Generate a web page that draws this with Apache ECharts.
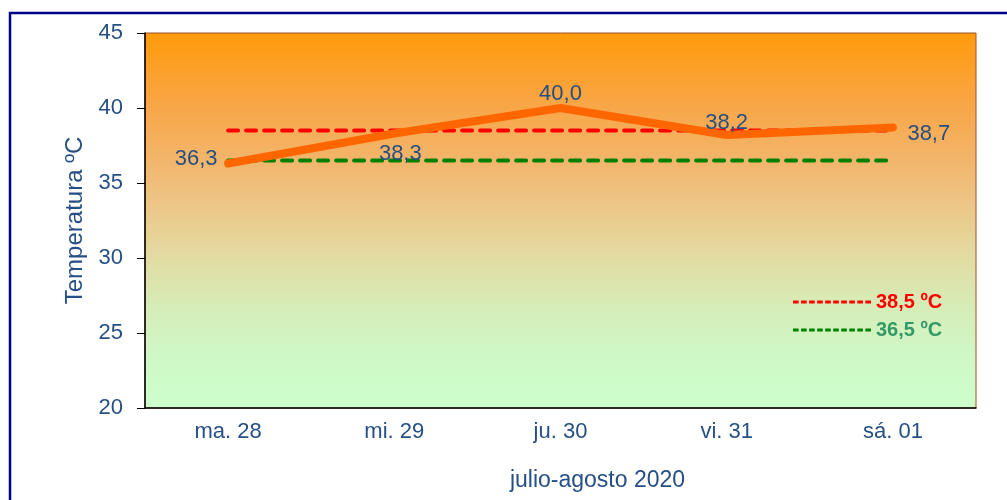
<!DOCTYPE html>
<html>
<head>
<meta charset="utf-8">
<script src="https://cdn.jsdelivr.net/npm/echarts@6/dist/echarts.min.js"></script>
<style>html,body{margin:0;padding:0;background:#fff}#c{width:1007px;height:500px}</style>
</head>
<body>
<div id="c"></div>
<script>
const categories = ['ma. 28', 'mi. 29', 'ju. 30', 'vi. 31', 'sá. 01'];
const temperatures = [36.3, 38.3, 40.0, 38.2, 38.7];
const feverLimit = [38.5, 38.5, 38.5, 38.5, 38.5];
const normalLimit = [36.5, 36.5, 36.5, 36.5, 36.5];
const yTicks = { min: 20, max: 45, interval: 5 };
const labelPlaces = ['left', 'bottom', 'top', 'top', 'right'];

const txt = '#264F85';
const font = 'Liberation Sans, Arial, sans-serif';
const offsets = { left: [0, -5], bottom: [6, 0], top: [0, 0], right: [0, 6] };
const dists = [10, 9, 3, 1, 14];

// dashed legend icon: 10 dashes in a 78 x 3 box
let dashPath = 'path://';
for (let k = 0; k < 10; k++) {
  const x0 = k * 7.85;
  dashPath += 'M' + x0.toFixed(2) + ',0h5.5v3h-5.5z';
}

const chart = echarts.init(document.getElementById('c'));
chart.setOption({
  animation: false,
  textStyle: { fontFamily: font },
  grid: {
    left: 145, right: 31, top: 33, bottom: 92,
    outerBoundsMode: 'none',
    show: true,
    borderColor: '#A0522D', borderWidth: 1,
    backgroundColor: new echarts.graphic.LinearGradient(0, 0, 0, 1, [
      { offset: 0, color: '#FF9A0A' },
      { offset: 0.18, color: '#F9A543' },
      { offset: 0.34, color: '#F2B56B' },
      { offset: 0.45, color: '#EDC586' },
      { offset: 0.6, color: '#E2DCA2' },
      { offset: 0.72, color: '#D7EBB6' },
      { offset: 0.85, color: '#CFF8C6' },
      { offset: 1, color: '#CCFFCC' }
    ])
  },
  graphic: [{
    type: 'rect', x: 10, y: 13, z: 100, silent: true,
    shape: { x: 0, y: 0, width: 1100, height: 600 },
    style: { fill: 'none', stroke: '#00008B', lineWidth: 2.5 }
  }],
  legend: {
    orient: 'vertical', left: 788, top: 285,
    itemWidth: 78, itemHeight: 3, itemGap: 4,
    symbolKeepAspect: false,
    data: [
      { name: '38,5 ºC', icon: dashPath, itemStyle: { color: '#FF0000' },
        textStyle: { color: '#FF0000', fontWeight: 'bold', fontSize: 20, lineHeight: 24, fontFamily: font } },
      { name: '36,5 ºC', icon: dashPath, itemStyle: { color: '#008000' },
        textStyle: { color: '#339966', fontWeight: 'bold', fontSize: 20, lineHeight: 24, fontFamily: font } }
    ]
  },
  xAxis: {
    type: 'category', data: categories, boundaryGap: true,
    name: 'julio-agosto 2020', nameLocation: 'middle', nameGap: 61,
    nameTextStyle: { color: txt, fontSize: 23, fontFamily: font, padding: [0, 0, 0, 74] },
    axisLine: { lineStyle: { color: '#000', width: 1.5 } },
    axisTick: { length: 8, lineStyle: { color: '#000' } },
    axisLabel: { color: txt, fontSize: 22, margin: 13, fontFamily: font },
    splitLine: { show: false }
  },
  yAxis: {
    type: 'value', min: yTicks.min, max: yTicks.max, interval: yTicks.interval,
    name: 'Temperatura ºC', nameLocation: 'middle', nameGap: 51, nameRotate: 90,
    nameTextStyle: { color: txt, fontSize: 24, fontFamily: font },
    axisLine: { show: true, lineStyle: { color: '#000', width: 1.5 } },
    axisTick: { show: true, length: 8, lineStyle: { color: '#000' } },
    axisLabel: { color: txt, fontSize: 22, margin: 22, fontFamily: font },
    splitLine: { show: false }
  },
  series: [
    {
      name: '38,5 ºC', type: 'line', data: feverLimit, symbol: 'none', z: 2,
      lineStyle: { color: '#FF0000', width: 4, type: [10, 8], cap: 'round' },
      itemStyle: { color: '#FF0000' }
    },
    {
      name: '36,5 ºC', type: 'line', data: normalLimit, symbol: 'none', z: 2,
      lineStyle: { color: '#008000', width: 4, type: [10, 8], cap: 'round' },
      itemStyle: { color: '#008000' }
    },
    {
      name: 'Temperatura', type: 'line', z: 3,
      data: temperatures.map((v, i) => ({
        value: v,
        label: { position: labelPlaces[i], offset: offsets[labelPlaces[i]], distance: dists[i] }
      })),
      symbol: 'circle', symbolSize: 1, showSymbol: true,
      itemStyle: { color: '#FF6600' },
      lineStyle: { color: '#FF6600', width: 8, cap: 'round', join: 'round' },
      label: {
        show: true, color: txt, fontSize: 22, fontFamily: font,
        formatter: p => p.value.toFixed(1).replace('.', ',')
      }
    }
  ]
});
</script>
</body>
</html>
